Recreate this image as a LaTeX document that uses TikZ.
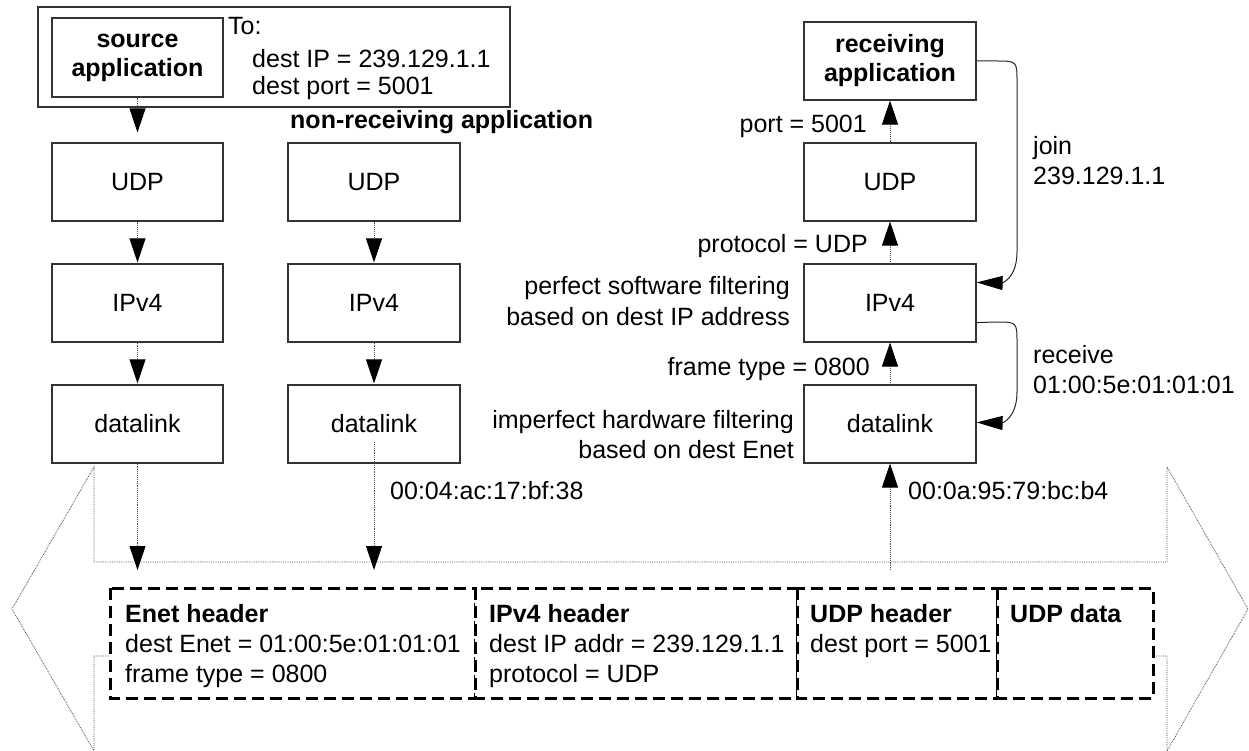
\documentclass[tikz,border=0pt]{standalone}
\usepackage{fontspec}
\setmainfont{Liberation Sans}
\usetikzlibrary{arrows.meta,calc}
\begin{document}
\begin{tikzpicture}[x=1pt,y=-1pt,
  font=\fontsize{25}{29}\selectfont,
  layer/.style={draw=black!80, line width=1.2pt, fill=white, minimum width=171pt, minimum height=78pt, inner sep=0pt, align=center},
  conn/.style={draw=black!70, densely dotted, line width=0.9pt, -{Triangle[length=24pt,width=16pt,color=black]}},
  curv/.style={draw=black!85, line width=1pt, -{Triangle[length=26pt,width=14pt,color=black]}},
  outline/.style={draw=black!70, densely dotted, line width=0.8pt},
  pkt/.style={draw=black, line width=3pt, dash pattern=on 12pt off 6pt, fill=white},
  lbl/.style={inner sep=0pt},
  hdr/.style={inner sep=0pt, anchor=base west, font=\fontsize{25}{29}\selectfont\bfseries}
]
\useasboundingbox (0,0) rectangle (1249,751);

% big double arrow (medium)
\draw[outline] (94,562) -- (1167,562) -- (1167,467) -- (1248,609) -- (1167,751) -- (1167,656)
  -- (94,656) -- (94,751) -- (12,609) -- (94,467) -- cycle;

% packet fields
\draw[pkt] (110,588) rectangle (475,698);
\draw[pkt] (475,588) rectangle (797,698);
\draw[pkt] (797,588) rectangle (997,698);
\draw[pkt] (997,588) rectangle (1153,698);

\node[hdr] (h1) at (125,622) {Enet header};
\node[lbl, anchor=base west] (h1a) at (125,652) {dest Enet = 01:00:5e:01:01:01};
\node[lbl, anchor=base west] (h1b) at (125,682) {frame type = 0800};
\node[hdr] (h2) at (489,622) {IPv4 header};
\node[lbl, anchor=base west] (h2a) at (489,652) {dest IP addr = 239.129.1.1};
\node[lbl, anchor=base west] (h2b) at (489,682) {protocol = UDP};
\node[hdr] (h3) at (810,622) {UDP header};
\node[lbl, anchor=base west] (h3a) at (810,652) {dest port = 5001};
\node[hdr] (h4) at (1010,622) {UDP data};

% source host
\draw[draw=black!80, line width=1.2pt] (38,7) rectangle (510,107);
\node[layer, minimum height=79pt, font=\fontsize{25}{29}\selectfont\bfseries] (app1) at (137.5,57.5) {source\\application};
\node[lbl, anchor=base west] (to) at (228,35) {To:};
\node[lbl, anchor=base west] (toip) at (252,68) {dest IP = 239.129.1.1};
\node[lbl, anchor=base west] (toport) at (252,95) {dest port = 5001};

\node[layer] (udp1) at (137.5,182) {UDP};
\node[layer] (ip1) at (137.5,303) {IPv4};
\node[layer] (dl1) at (137.5,424) {datalink};

% non-receiving host
\node[hdr] (nrlbl) at (290,129) {non-receiving application};
\node[layer, minimum width=172pt] (udp2) at (374,182) {UDP};
\node[layer, minimum width=172pt] (ip2) at (374,303) {IPv4};
\node[layer, minimum width=172pt] (dl2) at (374,424) {datalink};

% receiving host
\node[layer, minimum width=172pt, font=\fontsize{25}{29}\selectfont\bfseries] (app3) at (890,61) {receiving\\application};
\node[layer, minimum width=172pt] (udp3) at (890,182) {UDP};
\node[layer, minimum width=172pt] (ip3) at (890,303) {IPv4};
\node[layer, minimum width=172pt] (dl3) at (890,424) {datalink};

% bus coordinates
\coordinate (bus1) at (137.5,570);
\coordinate (bus2) at (374,570);
\coordinate (bus3) at (890,570);

% downward flow
\draw[conn, shorten >=10pt] (app1.south) -- (udp1.north);
\draw[conn, shorten >=1pt] (udp1.south) -- (ip1.north);
\draw[conn, shorten >=1pt] (ip1.south) -- (dl1.north);
\draw[conn] (dl1.south) -- (bus1);
\draw[conn, shorten >=1pt] (udp2.south) -- (ip2.north);
\draw[conn, shorten >=1pt] (ip2.south) -- (dl2.north);
\draw[conn] ($(dl2.center)+(0,18)$) -- (bus2);

% upward flow
\draw[conn] (bus3) -- (dl3.south);
\draw[conn] (dl3.north) -- (ip3.south);
\draw[conn] (ip3.north) -- (udp3.south);
\draw[conn] (udp3.north) -- (app3.south);

% labels on receiving side
\node[lbl, anchor=base east] (lport) at (867,133) {port = 5001};
\node[lbl, anchor=base east] (lproto) at (868,253) {protocol = UDP};
\node[lbl, anchor=base east] (lperf1) at (790,294) {perfect software filtering};
\node[lbl, anchor=base east] (lperf2) at (790,325) {based on dest IP address};
\node[lbl, anchor=base east] (lframe) at (870,375) {frame type = 0800};
\node[lbl, anchor=base east] (limp1) at (794,428) {imperfect hardware filtering};
\node[lbl, anchor=base east] (limp2) at (794,458) {based on dest Enet};
\node[lbl, anchor=base west] (mac3) at (908,499) {00:0a:95:79:bc:b4};
\node[lbl, anchor=base west] (mac2) at (390,499) {00:04:ac:17:bf:38};

% join / receive curves
\coordinate (jointip) at ($(ip3.north east)+(0,19)$);
\coordinate (rcvstart) at ($(ip3.south east)+(0,-20)$);
\coordinate (rcvtip) at ($(dl3.north east)+(0,38)$);
\draw[curv] (app3.east) -- (996,61) .. controls (1017,61) .. (1017,82) -- (1017,252)
  .. controls (1017,278) and (1002,283) .. (jointip);
\draw[curv] (rcvstart) -- (996,322) .. controls (1017,322) .. (1017,343) -- (1017,392)
  .. controls (1017,418) and (1002,423) .. (rcvtip);

\node[lbl, anchor=base west] (join1) at (1033,155) {join};
\node[lbl, anchor=base west] (join2) at (1033,185) {239.129.1.1};
\node[lbl, anchor=base west] (rcv1) at (1033,363) {receive};
\node[lbl, anchor=base west] (rcv2) at (1033,393) {01:00:5e:01:01:01};
\end{tikzpicture}
\end{document}
